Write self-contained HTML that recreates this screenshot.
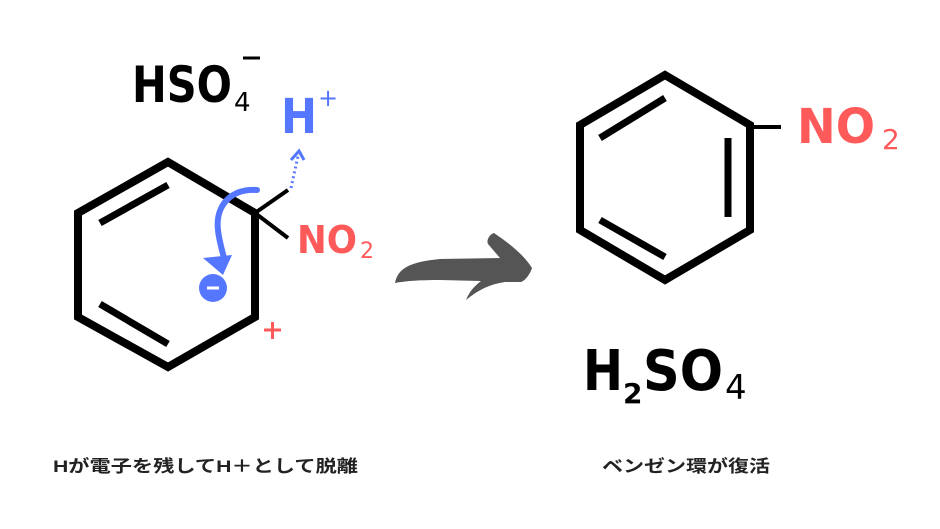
<!DOCTYPE html>
<html><head><meta charset="utf-8"><style>html,body{margin:0;padding:0;background:#fff;width:940px;height:529px;overflow:hidden}</style></head><body>
<svg width="940" height="529" viewBox="0 0 940 529" xmlns="http://www.w3.org/2000/svg" font-family="'DejaVu Sans','Liberation Sans',sans-serif">
<rect width="940" height="529" fill="#fff"/>
<polygon points="168,162 78,213 78,317 168,367 255,317 255,213" fill="none" stroke="#000" stroke-width="8" stroke-linejoin="miter"/>
<line x1="100" y1="223" x2="168" y2="185" stroke="#000" stroke-width="7"/>
<line x1="100" y1="304" x2="168" y2="344" stroke="#000" stroke-width="7"/>
<line x1="255" y1="213" x2="288" y2="190" stroke="#000" stroke-width="4"/>
<line x1="255" y1="213" x2="288" y2="238" stroke="#000" stroke-width="4"/>
<text x="297" y="253" font-size="38" font-weight="bold" fill="#ff5a5a" textLength="60" lengthAdjust="spacingAndGlyphs">NO</text>
<text x="360" y="258" font-size="22" fill="#ff5a5a">2</text>
<text x="132" y="102" font-size="50" font-weight="bold" fill="#000" textLength="100" lengthAdjust="spacingAndGlyphs">HSO</text>
<text x="234" y="111" font-size="26" fill="#000">4</text>
<line x1="243" y1="58" x2="260" y2="58" stroke="#000" stroke-width="3"/>
<text x="281" y="133" font-size="48" font-weight="bold" fill="#5577ff" textLength="36" lengthAdjust="spacingAndGlyphs">H</text>
<text x="318" y="106" font-size="24" fill="#5577ff">+</text>
<line x1="291" y1="188" x2="298" y2="156" stroke="#5577ff" stroke-width="3" stroke-dasharray="2,3"/>
<polyline points="291,160 299,151 304,160" fill="none" stroke="#5577ff" stroke-width="3"/>
<path d="M257,190 C232,188 215,205 218,230 C219,240 222,250 224,258" fill="none" stroke="#5577ff" stroke-width="6" stroke-linecap="round"/>
<polygon points="203,258 232,255 223,275" fill="#5577ff"/>
<circle cx="213" cy="288" r="14" fill="#5577ff"/>
<line x1="207" y1="288" x2="219" y2="288" stroke="#fff" stroke-width="3"/>
<line x1="264" y1="330" x2="281" y2="330" stroke="#ff5a5a" stroke-width="3"/>
<line x1="272.5" y1="322" x2="272.5" y2="339" stroke="#ff5a5a" stroke-width="3"/>
<path d="M395,283 C398,268 410,262 440,259 L500,258 L488,244 C486,240 490,234 494,233 C510,244 524,255 532,268 C530,274 526,280 521,282 L505,282 C490,284 478,290 466,300 C470,290 476,285 481,281 L440,280 C420,280 405,281 395,283 Z" fill="#555"/>
<polygon points="665,75 580,125 580,230 665,280 750,230 750,125" fill="none" stroke="#000" stroke-width="8"/>
<line x1="600" y1="138" x2="665" y2="98" stroke="#000" stroke-width="7"/>
<line x1="728" y1="138" x2="728" y2="217" stroke="#000" stroke-width="7"/>
<line x1="600" y1="220" x2="665" y2="257" stroke="#000" stroke-width="7"/>
<line x1="750" y1="127" x2="781" y2="127" stroke="#000" stroke-width="4"/>
<text x="797" y="143" font-size="48" font-weight="bold" fill="#ff5a5a" textLength="78" lengthAdjust="spacingAndGlyphs">NO</text>
<text x="882" y="149" font-size="28" fill="#ff5a5a">2</text>
<text x="583" y="390" font-size="56" font-weight="bold" fill="#000" textLength="40" lengthAdjust="spacingAndGlyphs">H</text>
<text x="623" y="403" font-size="28" font-weight="bold" fill="#000">2</text>
<text x="643" y="390" font-size="56" font-weight="bold" fill="#000" textLength="80" lengthAdjust="spacingAndGlyphs">SO</text>
<text x="725" y="399" font-size="34" fill="#000">4</text>
<text x="53" y="472" font-size="17" font-weight="bold" fill="#222" font-family="'Liberation Sans','Noto Sans CJK JP',sans-serif" textLength="305" lengthAdjust="spacingAndGlyphs">Hが電子を残してH＋として脱離</text>
<text x="602" y="472" font-size="17" font-weight="bold" fill="#222" font-family="'Liberation Sans','Noto Sans CJK JP',sans-serif" textLength="168" lengthAdjust="spacingAndGlyphs">ベンゼン環が復活</text>
</svg>
</body></html>
